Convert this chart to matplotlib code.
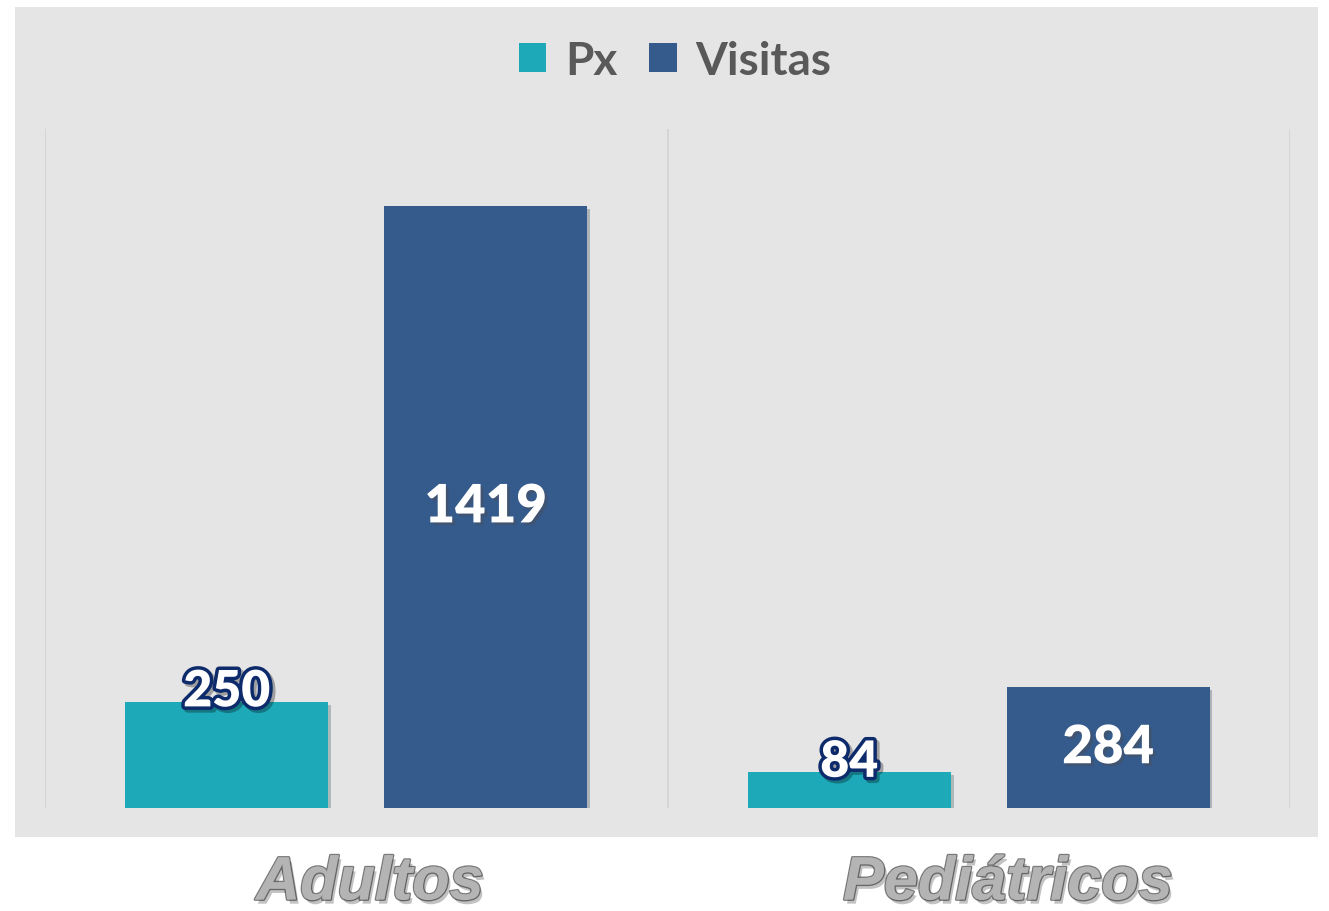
import matplotlib
matplotlib.use("Agg")
import matplotlib.pyplot as plt
import matplotlib.patheffects as pe
import matplotlib.transforms as mtransforms
from matplotlib.patches import Rectangle
import numpy as np

categories = ["Adultos", "Pediátricos"]
series_names = ["Px", "Visitas"]
px_values = [250, 84]
visitas_values = [1419, 284]

colors = {"Px": "#1EA9B9", "Visitas": "#355A8C"}

W, H = 1329, 912
fig = plt.figure(figsize=(W / 100, H / 100), dpi=100)
fig.patch.set_facecolor("white")

# gray chart area
bg = Rectangle((15 / W, (H - 838) / H), (1318 - 15) / W, (838 - 8) / H,
               transform=fig.transFigure, facecolor="#E5E5E5",
               edgecolor="none", zorder=-10)
fig.patches.append(bg)

ax = fig.add_axes([45 / W, (H - 809) / H, (1290 - 45) / W, (809 - 130) / H])
ax.set_zorder(5)
ax.set_facecolor("none")
ax.set_xlim(-0.5, len(categories) - 0.5)
ax.set_ylim(0, 1600)
for s in ax.spines.values():
    s.set_visible(False)
ax.set_xticks([])
ax.set_yticks([])

# vertical separators
for xv in [-0.5, 0.5, 1.5]:
    ax.axvline(xv, color="#D2D2D2", lw=1.2, zorder=1)

x = np.arange(len(categories))
bw = 0.326
off = 0.208
shadow = [pe.SimplePatchShadow(offset=(2, -2), alpha=0.25), pe.Normal()]
b1 = ax.bar(x - off, px_values, bw, color=colors["Px"], zorder=2, label="Px")
b2 = ax.bar(x + off, visitas_values, bw, color=colors["Visitas"], zorder=2, label="Visitas")
for b in list(b1) + list(b2):
    b.set_path_effects(shadow)

up = ax.transData + mtransforms.ScaledTranslation(0, 10 / 100, fig.dpi_scale_trans)
for xi, v in zip(x - off, px_values):
    ax.text(xi, v, f"{v}", ha="center", va="center", fontsize=36, fontweight="heavy",
            family="Lato", color="white", zorder=4, transform=up,
            path_effects=[pe.SimpleLineShadow(offset=(2, -2), alpha=0.3, linewidth=5),
                          pe.withStroke(linewidth=5, foreground="#0D2A6B")])
for xi, v in zip(x + off, visitas_values):
    ax.text(xi, v / 2, f"{v}", ha="center", va="center", fontsize=38, fontweight="heavy",
            family="Lato", color="white", zorder=4,
            path_effects=[pe.withSimplePatchShadow(offset=(2, -2), alpha=0.4)])

# legend
leg = fig.legend(handles=[b1, b2], labels=series_names, loc="center",
                 bbox_to_anchor=(675 / W, 1 - 62 / H), ncol=2, frameon=False,
                 prop={"family": "Lato", "weight": "bold", "size": 33},
                 handlelength=0.6, handleheight=0.6, handletextpad=0.4,
                 columnspacing=0.7)
for t in leg.get_texts():
    t.set_color("#595959")
for h in leg.legend_handles:
    h.set_path_effects([pe.Normal()])

# category labels below
cat_x = [370, 1008]
for cx, c in zip(cat_x, categories):
    fig.text(cx / W, 1 - 885 / H, c, ha="center", va="center", fontsize=44,
             fontweight="bold", fontstyle="italic", family="Liberation Sans",
             color="#B4B4B4",
             path_effects=[pe.withStroke(linewidth=2, foreground="#7A7A7A"),
                           pe.withSimplePatchShadow(offset=(2, -3), alpha=0.3)])

fig.savefig("out.png", dpi=100)
